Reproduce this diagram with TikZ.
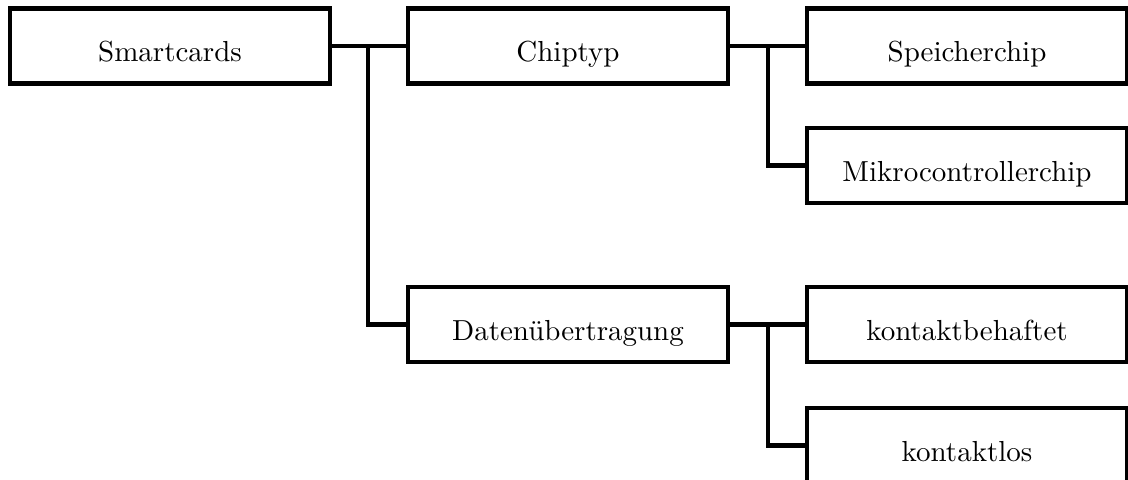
\documentclass[tikz,border=0pt]{standalone}
\begin{document}
\begin{tikzpicture}[x=0.345pt,y=-0.345pt,
  box/.style={draw,line width=1.4pt,minimum width=320*0.345pt,minimum height=75*0.345pt,inner sep=0pt,outer sep=0pt,text height=13pt,text depth=2pt,font=\fontsize{10pt}{12pt}\selectfont},
  link/.style={line width=1.4pt}]
\useasboundingbox (0,0) rectangle (1128,479);
% tree of boxes
\node[box] (sc) at (170,46) {Smartcards};
\node[box] (ct) at (568,46) {Chiptyp};
\node[box] (du) at (568,324.5) {Datenübertragung};
\node[box] (sp) at (967,46) {Speicherchip};
\node[box] (mk) at (967,165.5) {Mikrocontrollerchip};
\node[box] (kb) at (967,324.5) {kontaktbehaftet};
\node[box] (kl) at (967,445.5) {kontaktlos};
% branch points
\coordinate (j1) at (368,46);
\coordinate (j2) at (768,46);
\coordinate (j3) at (768,324.5);
% connectors
\draw[link] (sc.east) -- (ct.west);
\draw[link] (j1) |- (du.west);
\draw[link] (ct.east) -- (sp.west);
\draw[link] (j2) |- (mk.west);
\draw[link] (du.east) -- (kb.west);
\draw[link] (j3) |- (kl.west);
\end{tikzpicture}
\end{document}
